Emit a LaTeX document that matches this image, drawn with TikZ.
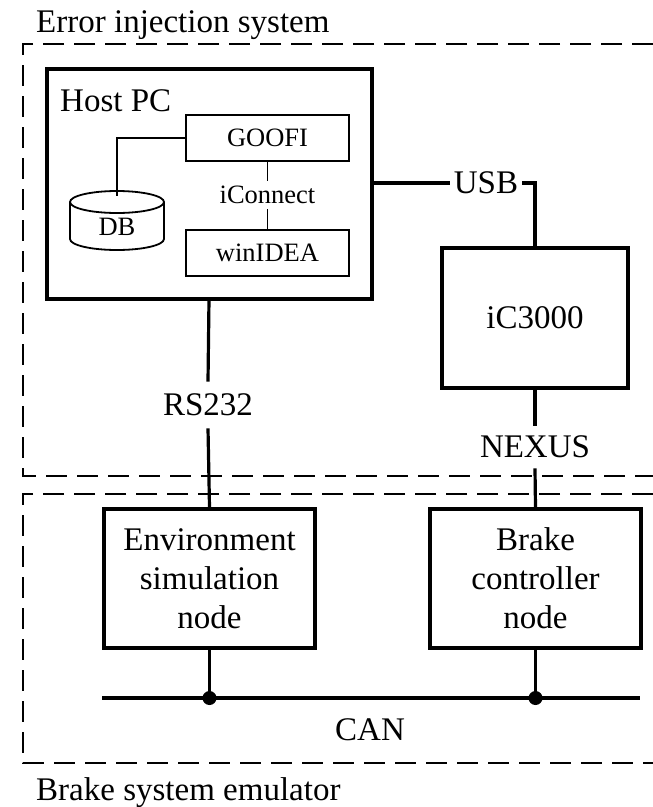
\documentclass[tikz,border=0pt]{standalone}
\usepackage{fontspec}
\setmainfont{Liberation Serif}
\begin{document}
\begin{tikzpicture}[x=1pt,y=-1pt,
  big/.style={font=\fontsize{33}{39}\selectfont},
  small/.style={font=\fontsize{26.5}{30}\selectfont},
  thickbox/.style={draw,line width=3.5pt,inner sep=0pt},
  thinbox/.style={draw,line width=1.8pt,inner sep=0pt},
  lbl/.style={inner sep=0pt},
  dashbox/.style={line width=2pt,dash pattern=on 21pt off 10pt},
  wire/.style={line width=3.2pt},
  thinwire/.style={line width=1.8pt},
  dot/.style={circle,fill,inner sep=0pt,minimum size=14pt}]
\useasboundingbox (0,0) rectangle (653,807);
% group frames
\draw[dashbox] (653,44) -- (23,44) -- (23,476) -- (653,476);
\draw[dashbox] (653,494) -- (23,494) -- (23,763) -- (653,763);
\node[big,lbl,anchor=base west] (t1) at (36,32) {Error injection system};
\node[big,lbl,anchor=base west] (t2) at (36,800) {Brake system emulator};
% host PC
\draw[thickbox] (47,69) rectangle (372,299);
\coordinate (hostE) at (372,183);
\coordinate (hostS) at (209,299);
\node[big,lbl,anchor=base west] (hostlbl) at (60,111) {Host PC};
\node[thinbox,small,minimum width=163pt,minimum height=46pt] (goofi) at (267.5,138) {GOOFI};
\node[thinbox,small,minimum width=163pt,minimum height=46pt] (winidea) at (267.5,253) {winIDEA};
\node[small,inner ysep=5pt,inner xsep=0pt] (iconnect) at (267.5,195) {iConnect};
\draw[thinwire] (goofi) -- (iconnect);
\draw[thinwire] (iconnect) -- (winidea);
% DB cylinder
\draw[line width=1.8pt] (70,202) -- (70,239) arc (180:0:47 and 11) -- (164,202);
\draw[line width=1.8pt] (117,202) ellipse (47 and 11);
\coordinate (dbtop) at (117,196);
\node[small,lbl] (db) at (117,227) {DB};
\draw[thinwire] (goofi.west) -| (dbtop);
% iC3000
\node[thickbox,big,minimum width=186pt,minimum height=140pt] (ic) at (535,318) {iC3000};
\node[big,inner xsep=4pt,inner ysep=0pt] (usb) at (486,183) {USB};
\draw[wire] (hostE) -- (usb.west);
\draw[wire] (usb.east) -| (ic.north);
\node[big,inner xsep=0pt,inner ysep=10pt] (nexus) at (535,447) {NEXUS};
\node[big,inner xsep=0pt,inner ysep=12pt] (rs) at (208,405) {RS232};
% emulator nodes
\node[thickbox,big,minimum width=211pt,minimum height=139pt,align=center] (env) at (209.5,578.5) {Environment\\simulation\\node};
\node[thickbox,big,minimum width=211pt,minimum height=139pt,align=center] (brake) at (535.5,578.5) {Brake\\controller\\node};
\draw[wire] (hostS) -- (rs.north);
\draw[wire] (rs.south) -- (env.north);
\draw[wire] (ic.south) -- (nexus.north);
\draw[wire] (nexus.south) -- (brake.north);
% CAN bus
\coordinate (canL) at (102,698);
\coordinate (canR) at (640,698);
\draw[line width=3.5pt] (canL) -- (canR);
\node[dot] (d1) at (209.5,698) {};
\node[dot] (d2) at (535.5,698) {};
\draw[wire] (env.south) -- (d1.center);
\draw[wire] (brake.south) -- (d2.center);
\node[big,lbl] (can) at (370,730) {CAN};
\end{tikzpicture}
\end{document}
